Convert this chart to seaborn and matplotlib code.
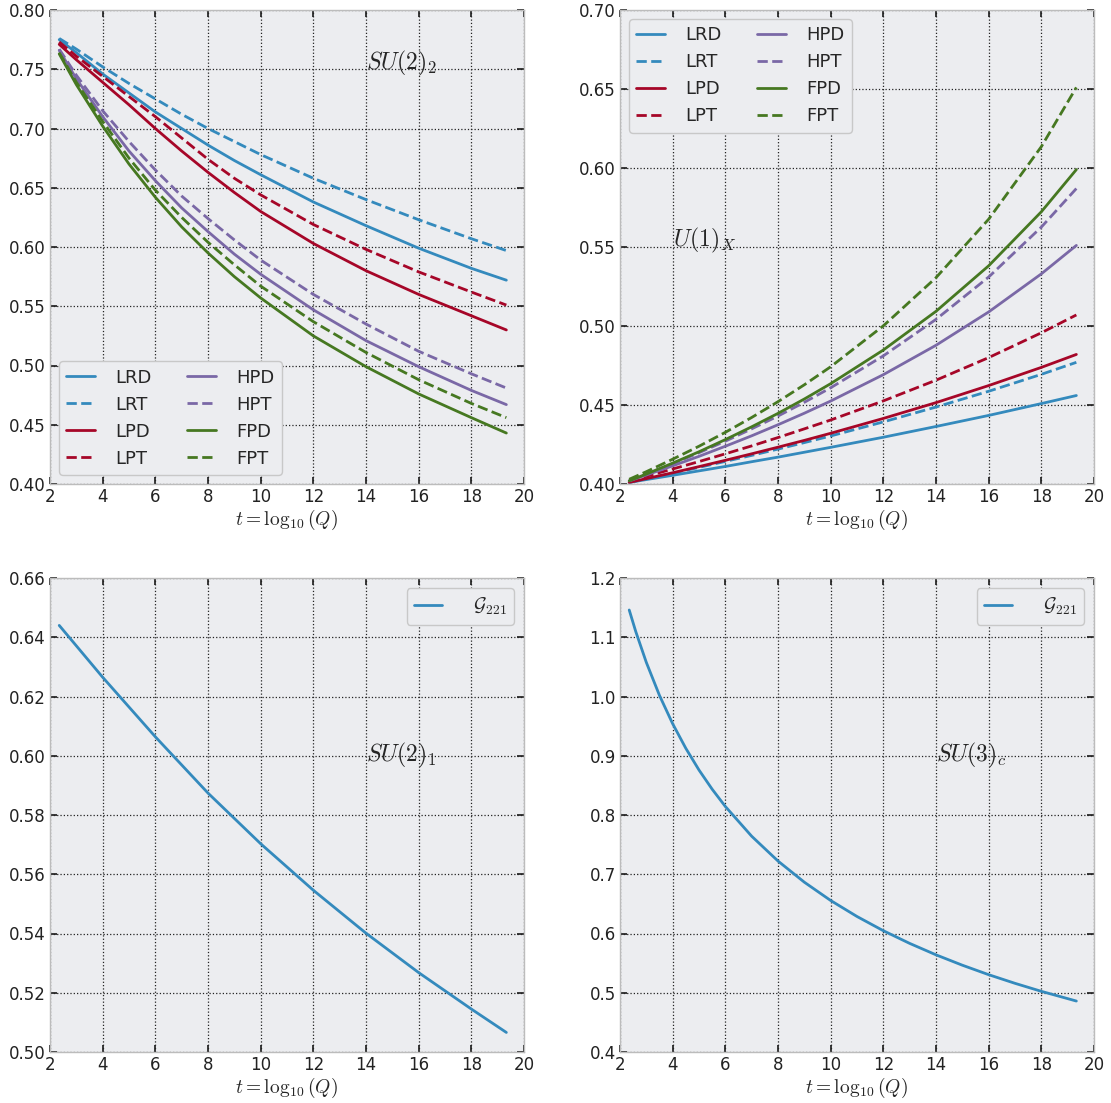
import matplotlib
matplotlib.use("Agg")
import matplotlib.pyplot as plt
import seaborn as sns
import numpy as np

# t = log10(Q) sample points
t_top = [2.35, 3, 4, 5, 6, 7, 8, 9, 10, 12, 14, 16, 18, 19.33]

# SU(2)_2 couplings
su2_2 = {
    "LRD": [0.775, 0.764, 0.746, 0.730, 0.714, 0.700, 0.686, 0.673, 0.661, 0.638, 0.618, 0.599, 0.582, 0.572],
    "LRT": [0.776, 0.767, 0.752, 0.738, 0.725, 0.712, 0.700, 0.689, 0.678, 0.658, 0.640, 0.623, 0.607, 0.597],
    "LPD": [0.771, 0.758, 0.739, 0.720, 0.700, 0.681, 0.663, 0.646, 0.630, 0.603, 0.580, 0.560, 0.542, 0.530],
    "LPT": [0.773, 0.761, 0.744, 0.727, 0.710, 0.692, 0.674, 0.658, 0.644, 0.619, 0.598, 0.579, 0.562, 0.551],
    "HPD": [0.766, 0.742, 0.710, 0.681, 0.656, 0.633, 0.613, 0.594, 0.577, 0.547, 0.521, 0.499, 0.479, 0.467],
    "HPT": [0.767, 0.745, 0.715, 0.689, 0.665, 0.643, 0.624, 0.606, 0.589, 0.560, 0.535, 0.512, 0.493, 0.481],
    "FPD": [0.763, 0.737, 0.702, 0.670, 0.642, 0.617, 0.595, 0.575, 0.557, 0.525, 0.499, 0.476, 0.456, 0.443],
    "FPT": [0.764, 0.739, 0.706, 0.675, 0.648, 0.625, 0.604, 0.585, 0.567, 0.537, 0.511, 0.488, 0.468, 0.456],
}

# U(1)_X couplings
u1_x = {
    "LRD": [0.401, 0.4028, 0.4055, 0.4083, 0.4111, 0.4141, 0.4170, 0.4201, 0.4232, 0.4296, 0.4364, 0.4434, 0.4509, 0.456],
    "LRT": [0.401, 0.4033, 0.4068, 0.4105, 0.4143, 0.4181, 0.4221, 0.4262, 0.4304, 0.4393, 0.4487, 0.4587, 0.4694, 0.477],
    "LPD": [0.401, 0.4034, 0.4071, 0.4110, 0.4150, 0.4191, 0.4233, 0.4276, 0.4321, 0.4415, 0.4515, 0.4623, 0.4738, 0.482],
    "LPT": [0.402, 0.4049, 0.4095, 0.4142, 0.4191, 0.4241, 0.4294, 0.4349, 0.4405, 0.4526, 0.4657, 0.4800, 0.4957, 0.507],
    "HPD": [0.402, 0.4057, 0.4115, 0.4175, 0.4239, 0.4305, 0.4375, 0.4448, 0.4525, 0.4692, 0.4878, 0.5089, 0.5330, 0.551],
    "HPT": [0.402, 0.4062, 0.4128, 0.4198, 0.4271, 0.4349, 0.4430, 0.4517, 0.4609, 0.4811, 0.5042, 0.5310, 0.5626, 0.587],
    "FPD": [0.402, 0.4063, 0.4132, 0.4204, 0.4281, 0.4362, 0.4447, 0.4538, 0.4635, 0.4848, 0.5093, 0.5381, 0.5723, 0.599],
    "FPT": [0.403, 0.4078, 0.4157, 0.4239, 0.4327, 0.4421, 0.4521, 0.4628, 0.4742, 0.5001, 0.5306, 0.5676, 0.6135, 0.651],
}

# SU(2)_1 coupling
t_su2_1 = [2.35, 4, 6, 8, 10, 12, 14, 16, 18, 19.33]
g_su2_1 = [0.6440, 0.6265, 0.6064, 0.5874, 0.5703, 0.5546, 0.5401, 0.5268, 0.5145, 0.5066]

# SU(3)_c coupling
t_su3 = [2.35, 2.6, 3, 3.5, 4, 4.5, 5, 5.5, 6, 7, 8, 9, 10, 11, 12, 13, 14, 15, 16, 17, 18, 19.33]
g_su3 = [1.146, 1.1094, 1.0575, 1.0017, 0.9540, 0.9125, 0.8759, 0.8435, 0.8144, 0.7642, 0.7223,
         0.6866, 0.6557, 0.6287, 0.6047, 0.5833, 0.5640, 0.5465, 0.5305, 0.5159, 0.5024, 0.486]

colors = {"LR": "#348ABD", "LP": "#A60628", "HP": "#7A68A6", "FP": "#467821"}
bg = "#ecedf0"

sns.set_theme(style="darkgrid", rc={
    "axes.facecolor": bg,
    "axes.edgecolor": "#bcbcbc",
    "axes.linewidth": 1.0,
    "grid.color": "#222222",
    "grid.linestyle": ":",
    "grid.linewidth": 0.9,
    "xtick.direction": "in",
    "ytick.direction": "in",
    "xtick.top": True,
    "ytick.right": True,
    "xtick.bottom": True,
    "ytick.left": True,
    "xtick.major.size": 5,
    "ytick.major.size": 5,
    "xtick.color": "#222222",
    "ytick.color": "#222222",
    "mathtext.fontset": "cm",
})
plt.rcParams["font.family"] = ["DejaVu Sans"]

fig = plt.figure(figsize=(11.11, 11.03), dpi=100)
w, h = 474 / 1111, 474 / 1103
ax1 = fig.add_axes([50 / 1111, 1 - 484 / 1103, w, h])
ax2 = fig.add_axes([620 / 1111, 1 - 484 / 1103, w, h])
ax3 = fig.add_axes([50 / 1111, 1 - 1052 / 1103, w, h])
ax4 = fig.add_axes([620 / 1111, 1 - 1052 / 1103, w, h])


def draw_models(ax, data):
    for name, vals in data.items():
        ls = "--" if name.endswith("T") else "-"
        sns.lineplot(x=t_top, y=vals, ax=ax, color=colors[name[:2]], linestyle=ls,
                     linewidth=2, label=name)


def style_axes(ax, ylim, yticks, fmt):
    ax.set_xlim(2, 20)
    ax.set_xticks(range(2, 21, 2))
    ax.set_ylim(*ylim)
    ax.set_yticks(yticks)
    ax.set_yticklabels([fmt.format(v) for v in yticks])
    ax.tick_params(labelsize=12, pad=3)
    ax.set_xlabel(r"$t=\log_{10}(Q)$", fontsize=14, labelpad=1)
    for s in ax.spines.values():
        s.set_color("#bcbcbc")
        s.set_visible(True)


leg_kw = dict(fontsize=13, frameon=True, fancybox=True, facecolor=bg,
              edgecolor="#c8c8c8", framealpha=1.0, handlelength=1.6,
              handletextpad=1.1, columnspacing=2.0, labelspacing=0.5)

draw_models(ax1, su2_2)
style_axes(ax1, (0.40, 0.80), np.arange(0.40, 0.801, 0.05), "{:.2f}")
ax1.legend(loc="lower left", ncol=2, **leg_kw)
ax1.text(14, 0.755, r"$SU(2)_2$", fontsize=17, va="center")

draw_models(ax2, u1_x)
style_axes(ax2, (0.40, 0.70), np.arange(0.40, 0.701, 0.05), "{:.2f}")
ax2.legend(loc="upper left", ncol=2, **leg_kw)
ax2.text(4, 0.554, r"$U(1)_X$", fontsize=17, va="center")

g_kw = dict(leg_kw, fontsize=14, handlelength=1.4, handletextpad=1.6)

sns.lineplot(x=t_su2_1, y=g_su2_1, ax=ax3, color=colors["LR"], linewidth=2,
             label=r"$\mathcal{G}_{221}$")
style_axes(ax3, (0.50, 0.66), np.arange(0.50, 0.661, 0.02), "{:.2f}")
ax3.legend(loc="upper right", **g_kw)
ax3.text(14, 0.600, r"$SU(2)_1$", fontsize=17, va="center")

sns.lineplot(x=t_su3, y=g_su3, ax=ax4, color=colors["LR"], linewidth=2,
             label=r"$\mathcal{G}_{221}$")
style_axes(ax4, (0.4, 1.2), np.arange(0.4, 1.201, 0.1), "{:.1f}")
ax4.legend(loc="upper right", **g_kw)
ax4.text(14, 0.900, r"$SU(3)_c$", fontsize=17, va="center")

fig.savefig("out.png", dpi=100)
